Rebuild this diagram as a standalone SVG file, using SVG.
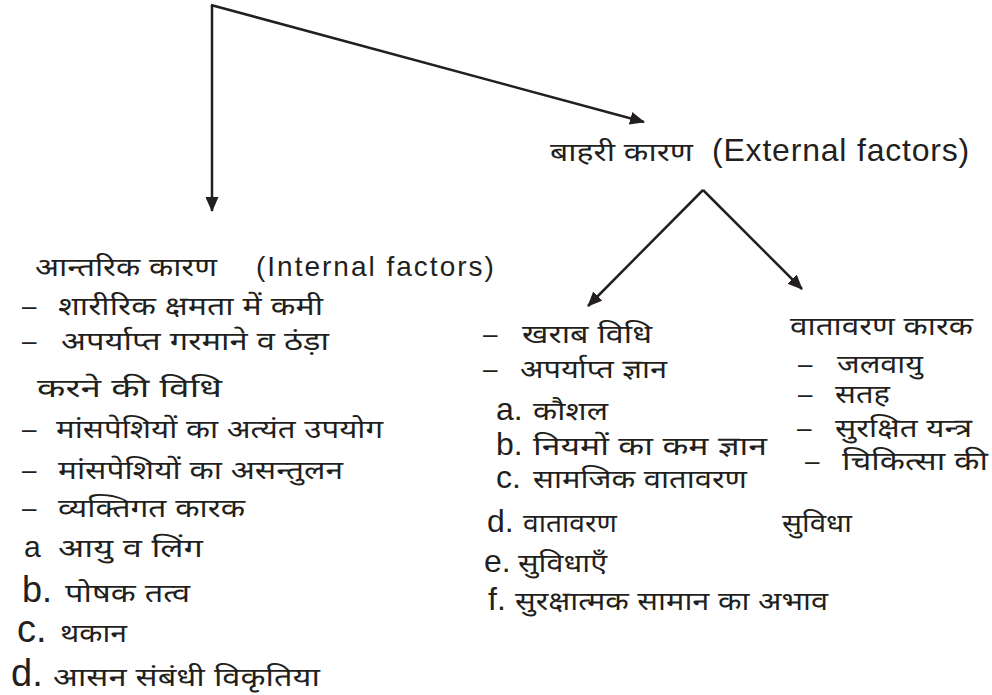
<svg xmlns="http://www.w3.org/2000/svg" width="992" height="695" viewBox="0 0 992 695">
  <defs>
    <marker id="arrow" markerUnits="userSpaceOnUse" markerWidth="15" markerHeight="13" refX="14" refY="6.5" orient="auto">
      <path d="M0,0 L15,6.5 L0,13 z" fill="#231f20"/>
    </marker>
    <style>
      .t { font-family: 'Liberation Sans', 'Noto Sans Devanagari', 'Lohit Devanagari', 'Noto Sans', sans-serif; font-size: 26px; fill: #231f20; }
      .en { font-family: 'Liberation Sans', Arial, sans-serif; fill: #231f20; }
      .link { fill: none; stroke: #231f20; stroke-width: 2.5; }
    </style>
  </defs>
  <rect width="992" height="695" fill="#ffffff"/>

  <g id="connectors">
    <path class="link" d="M212,5 L212,211" marker-end="url(#arrow)"/>
    <path class="link" d="M211,5 L644,122" marker-end="url(#arrow)"/>
    <path class="link" d="M703,190 L588,306" marker-end="url(#arrow)"/>
    <path class="link" d="M703,190 L802,289" marker-end="url(#arrow)"/>
  </g>

  <g id="external">
    <text class="t" x="550" y="161" textLength="143" lengthAdjust="spacingAndGlyphs">बाहरी कारण</text>
    <text class="en" x="712" y="161" font-size="32" letter-spacing="0.8">(External factors)</text>
  </g>

  <g id="internal">
    <text class="t" x="35" y="276" textLength="182" lengthAdjust="spacingAndGlyphs">आन्तरिक कारण</text>
    <text class="en" x="256" y="276" font-size="28" letter-spacing="2">(Internal factors)</text>

    <text class="t" x="22" y="315">–</text>
    <text class="t" x="58" y="315" textLength="265" lengthAdjust="spacingAndGlyphs">शारीरिक क्षमता में कमी</text>

    <text class="t" x="22" y="350">–</text>
    <text class="t" x="61" y="350" textLength="268" lengthAdjust="spacingAndGlyphs">अपर्याप्त गरमाने व ठंड़ा</text>

    <text class="t" x="37" y="397" textLength="185" lengthAdjust="spacingAndGlyphs">करने की विधि</text>

    <text class="t" x="22" y="438">–</text>
    <text class="t" x="56" y="438" textLength="327" lengthAdjust="spacingAndGlyphs">मांसपेशियों का अत्यंत उपयोग</text>

    <text class="t" x="22" y="479">–</text>
    <text class="t" x="58" y="479" textLength="285" lengthAdjust="spacingAndGlyphs">मांसपेशियों का असन्तुलन</text>

    <text class="t" x="22" y="517">–</text>
    <text class="t" x="58" y="517" textLength="187" lengthAdjust="spacingAndGlyphs">व्यक्तिगत कारक</text>

    <text class="en" x="24" y="557" font-size="30">a</text>
    <text class="t" x="58" y="557" textLength="145" lengthAdjust="spacingAndGlyphs">आयु व लिंग</text>

    <text class="en" x="22" y="602" font-size="36">b.</text>
    <text class="t" x="65" y="602" textLength="125" lengthAdjust="spacingAndGlyphs">पोषक तत्व</text>

    <text class="en" x="17" y="642" font-size="38">c.</text>
    <text class="t" x="60" y="642" textLength="67" lengthAdjust="spacingAndGlyphs">थकान</text>

    <text class="en" x="11" y="686" font-size="38">d.</text>
    <text class="t" x="53" y="686" textLength="267" lengthAdjust="spacingAndGlyphs">आसन संबंधी विकृतिया</text>
  </g>

  <g id="method-factors">
    <text class="t" x="483" y="343">–</text>
    <text class="t" x="522" y="343" textLength="130" lengthAdjust="spacingAndGlyphs">खराब विधि</text>

    <text class="t" x="483" y="378">–</text>
    <text class="t" x="520" y="378" textLength="147" lengthAdjust="spacingAndGlyphs">अपर्याप्त ज्ञान</text>

    <text class="en" x="496" y="420" font-size="32">a.</text>
    <text class="t" x="533" y="420" textLength="75" lengthAdjust="spacingAndGlyphs">कौशल</text>

    <text class="en" x="496" y="455" font-size="32">b.</text>
    <text class="t" x="533" y="455" textLength="234" lengthAdjust="spacingAndGlyphs">नियमों का कम ज्ञान</text>

    <text class="en" x="496" y="488" font-size="32">c.</text>
    <text class="t" x="533" y="488" textLength="214" lengthAdjust="spacingAndGlyphs">सामजिक वातावरण</text>

    <text class="en" x="487" y="532" font-size="32">d.</text>
    <text class="t" x="523" y="532" textLength="94" lengthAdjust="spacingAndGlyphs">वातावरण</text>

    <text class="en" x="484" y="572" font-size="32">e.</text>
    <text class="t" x="518" y="572" textLength="89" lengthAdjust="spacingAndGlyphs">सुविधाएँ</text>

    <text class="en" x="488" y="610" font-size="32">f.</text>
    <text class="t" x="515" y="610" textLength="313" lengthAdjust="spacingAndGlyphs">सुरक्षात्मक सामान का अभाव</text>
  </g>

  <g id="environment-factors">
    <text class="t" x="790" y="335" textLength="183" lengthAdjust="spacingAndGlyphs">वातावरण कारक</text>

    <text class="t" x="798" y="373">–</text>
    <text class="t" x="837" y="373" textLength="86" lengthAdjust="spacingAndGlyphs">जलवायु</text>

    <text class="t" x="798" y="403">–</text>
    <text class="t" x="835" y="403" textLength="55" lengthAdjust="spacingAndGlyphs">सतह</text>

    <text class="t" x="797" y="437">–</text>
    <text class="t" x="835" y="437" textLength="137" lengthAdjust="spacingAndGlyphs">सुरक्षित यन्त्र</text>

    <text class="t" x="805" y="470">–</text>
    <text class="t" x="842" y="470" textLength="146" lengthAdjust="spacingAndGlyphs">चिकित्सा की</text>

    <text class="t" x="782" y="532" textLength="70" lengthAdjust="spacingAndGlyphs">सुविधा</text>
  </g>
</svg>
